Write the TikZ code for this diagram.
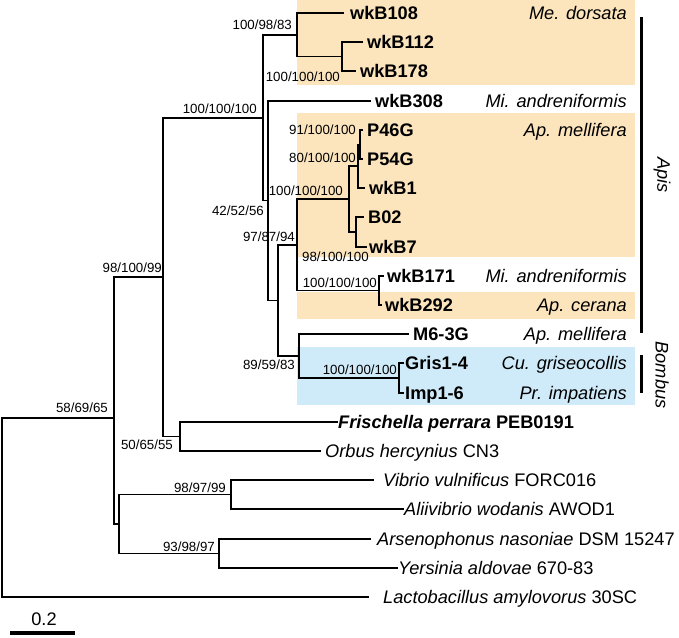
\documentclass[tikz,border=0pt]{standalone}
\usepackage{fontspec}
\setmainfont{Liberation Sans}
\definecolor{apisbg}{RGB}{252,229,189}
\definecolor{bombusbg}{RGB}{207,234,248}
\begin{document}
\begin{tikzpicture}[x=1pt,y=-1pt]
    \tikzstyle{tip}=[anchor=west,inner xsep=5pt,inner ysep=0pt,text height=13pt,text depth=0pt,font=\fontsize{18.2}{20}\selectfont\bfseries];
    \tikzstyle{taxon}=[tip,font=\fontsize{18.2}{20}\selectfont];
    \tikzstyle{boot}=[anchor=east,inner sep=0pt,text height=9.5pt,text depth=0pt,font=\fontsize{13.3}{14}\selectfont];
    \tikzstyle{host}=[anchor=east,inner sep=0pt,text height=13pt,text depth=0pt,font=\fontsize{18.2}{20}\selectfont\itshape];
    \tikzstyle{clade}=[font=\fontsize{18.2}{20}\selectfont\itshape,rotate=-90];
    \tikzstyle{branch}=[draw,line width=1.1pt,line cap=rect];
    \useasboundingbox (0,0) rectangle (679,637);

    \fill[apisbg] (297,0) rectangle (635,85);
    \fill[apisbg] (297,113) rectangle (635,257);
    \fill[apisbg] (297,292) rectangle (635,319);
    \fill[bombusbg] (297,347) rectangle (635,405);

    \node (wkB108) [tip,inner xsep=7pt] at (343,13) {wkB108};
    \node (wkB112) [tip] at (362,42) {wkB112};
    \node (wkB178) [tip] at (355,71) {wkB178};
    \node (wkB308) [tip] at (370,101) {wkB308};
    \node (P46G) [tip] at (362,130) {P46G};
    \node (P54G) [tip] at (362,159) {P54G};
    \node (wkB1) [tip] at (364,188) {wkB1};
    \node (B02) [tip] at (363,217) {B02};
    \node (wkB7) [tip,inner xsep=3pt] at (366,247) {wkB7};
    \node (wkB171) [tip,inner xsep=4pt] at (383,276) {wkB171};
    \node (wkB292) [tip,inner xsep=4pt] at (381,305) {wkB292};
    \node (M63G) [tip] at (408,334) {M6-3G};
    \node (Gris) [tip,inner xsep=2pt] at (403,363) {Gris1-4};
    \node (Imp) [tip,inner xsep=2pt] at (403,393) {Imp1-6};
    \node (Fper) [tip,inner xsep=1pt] at (337,422) {\textit{Frischella perrara} PEB0191};
    \node (Oher) [taxon] at (320,451) {\textit{Orbus hercynius} CN3};
    \node (Vvul) [taxon,inner xsep=10pt] at (373,480) {\textit{Vibrio vulnificus} FORC016};
    \node (Awod) [taxon,inner xsep=1pt] at (403,509) {\textit{Aliivibrio wodanis} AWOD1};
    \node (Anas) [taxon,inner xsep=7pt] at (370,539) {\textit{Arsenophonus nasoniae} DSM 15247};
    \node (Yald) [taxon,inner xsep=1pt] at (397,568) {\textit{Yersinia aldovae} 670-83};
    \node (Lamy) [taxon,inner xsep=15pt] at (368,597) {\textit{Lactobacillus amylovorus} 30SC};

    \coordinate (Q) at (342,56.5);
    \coordinate (P) at (297,35);
    \coordinate (O) at (360,144.5);
    \coordinate (M) at (358,166);
    \coordinate (N) at (356,232);
    \coordinate (K) at (349,199);
    \coordinate (L) at (379,290.5);
    \coordinate (H) at (297,245);
    \coordinate (S) at (399,378);
    \coordinate (J) at (299,356);
    \coordinate (I) at (278,300.5);
    \coordinate (G) at (268,200.5);
    \coordinate (F) at (263,118);
    \coordinate (R) at (180,436.5);
    \coordinate (B) at (163,277);
    \coordinate (D) at (231,494.5);
    \coordinate (E) at (219,553.5);
    \coordinate (C) at (119,524);
    \coordinate (A) at (114,418);
    \coordinate (root) at (2,418);

    \path[branch] (Q) |- (wkB112.west) (Q) |- (wkB178.west)
    (P) |- (wkB108.west) (P) |- (Q)
    (O) |- (P46G.west) (O) |- (P54G.west)
    (M) |- (O) (M) |- (wkB1.west)
    (N) |- (B02.west) (N) |- (wkB7.west)
    (K) |- (M) (K) |- (N)
    (L) |- (wkB171.west) (L) |- (wkB292.west)
    (H) |- (K) (H) |- (L)
    (S) |- (Gris.west) (S) |- (Imp.west)
    (J) |- (M63G.west) (J) |- (S)
    (I) |- (H) (I) |- (J)
    (G) |- (wkB308.west) (G) |- (I)
    (F) |- (P) (F) |- (G)
    (R) |- (Fper.west) (R) |- (Oher.west)
    (B) |- (F) (B) |- (R)
    (D) |- (Vvul.west) (D) |- (Awod.west)
    (E) |- (Anas.west) (E) |- (Yald.west)
    (C) |- (D) (C) |- (E)
    (A) |- (B) (A) |- (C)
    (root) -- (A) (root) |- (Lamy.west);

    \node (b1) [boot] at (292,25) {100/98/83};
    \node (b2) [boot] at (340,77) {100/100/100};
    \node (b3) [boot] at (257,109) {100/100/100};
    \node (b4) [boot] at (356,130) {91/100/100};
    \node (b5) [boot] at (356,158) {80/100/100};
    \node (b6) [boot] at (343,191) {100/100/100};
    \node (b7) [boot] at (264,211) {42/52/56};
    \node (b8) [boot] at (295,237) {97/87/94};
    \node (b9) [boot,anchor=west] at (302,257) {98/100/100};
    \node (b10) [boot] at (377,283) {100/100/100};
    \node (b11) [boot] at (295,365) {89/59/83};
    \node (b12) [boot] at (397,370) {100/100/100};
    \node (b13) [boot] at (162,268) {98/100/99};
    \node (b14) [boot] at (108,408) {58/69/65};
    \node (b15) [boot] at (173,445) {50/65/55};
    \node (b16) [boot] at (226,488) {98/97/99};
    \node (b17) [boot] at (215,547) {93/98/97};

    \node (h1) [host] at (627,13) {Me. dorsata};
    \node (h2) [host] at (627,101) {Mi. andreniformis};
    \node (h3) [host] at (627,130) {Ap. mellifera};
    \node (h4) [host] at (627,276) {Mi. andreniformis};
    \node (h5) [host] at (627,305) {Ap. cerana};
    \node (h6) [host] at (627,334) {Ap. mellifera};
    \node (h7) [host] at (627,363) {Cu. griseocollis};
    \node (h8) [host] at (627,393) {Pr. impatiens};

    \coordinate (apis1) at (641,17);
    \coordinate (apis2) at (641,333);
    \coordinate (bomb1) at (641,355);
    \coordinate (bomb2) at (641,393);
    \draw[line width=3pt] (apis1) -- (apis2) (bomb1) -- (bomb2);
    \node (apis) [clade] at (662,175) {Apis};
    \node (bombus) [clade] at (662,375) {Bombus};

    \coordinate (bar1) at (10,633);
    \coordinate (bar2) at (75,633);
    \draw[line width=4pt] (bar1) -- (bar2);
    \node (bar) [font=\fontsize{18.2}{20}\selectfont] at (44,619) {0.2};
\end{tikzpicture}
\end{document}
